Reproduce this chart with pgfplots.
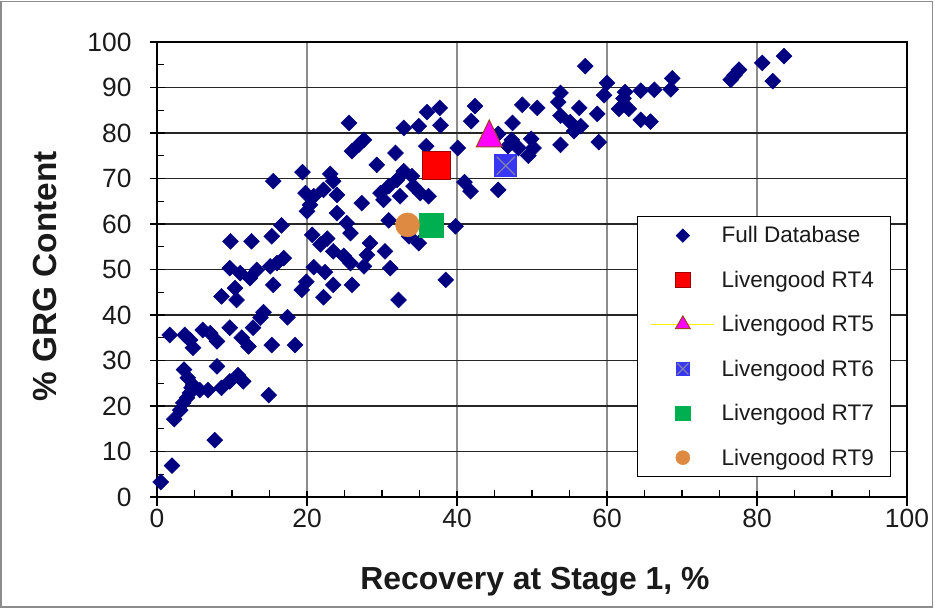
\documentclass[border=0pt]{standalone}
\usepackage{pgfplots}
\pgfplotsset{compat=1.18}
\usepackage{fontspec}
\setmainfont{Liberation Sans}
\definecolor{navyd}{HTML}{000080}
\definecolor{rt4}{HTML}{FF0000}
\definecolor{rt4e}{HTML}{A00000}
\definecolor{rt5}{HTML}{FF00FF}
\definecolor{rt5e}{HTML}{A04020}
\definecolor{rt6}{HTML}{3636F4}
\definecolor{rt6x}{HTML}{8080A8}
\definecolor{rt7}{HTML}{00B050}
\definecolor{rt9}{HTML}{DE8A42}
\definecolor{txt}{HTML}{1A1A1A}
\pgfdeclareplotmark{sqx}{%
  \pgfpathrectangle{\pgfqpoint{-\pgfplotmarksize}{-\pgfplotmarksize}}{\pgfqpoint{2\pgfplotmarksize}{2\pgfplotmarksize}}%
  \pgfusepathqfill
  \pgfsetstrokecolor{rt6x}%
  \pgfsetlinewidth{1.2bp}%
  \pgfpathmoveto{\pgfqpoint{-0.8\pgfplotmarksize}{-0.8\pgfplotmarksize}}%
  \pgfpathlineto{\pgfqpoint{0.8\pgfplotmarksize}{0.8\pgfplotmarksize}}%
  \pgfpathmoveto{\pgfqpoint{-0.8\pgfplotmarksize}{0.8\pgfplotmarksize}}%
  \pgfpathlineto{\pgfqpoint{0.8\pgfplotmarksize}{-0.8\pgfplotmarksize}}%
  \pgfusepathqstroke
}
\pgfplotstableread{
x y
0.5 3.3
2.0 6.9
7.7 12.5
2.3 17.1
3.1 19.1
3.5 20.7
4.0 21.8
4.4 22.9
4.6 24.0
3.6 28.0
4.1 26.2
4.8 24.6
5.7 23.5
6.8 23.5
8.0 28.7
8.6 24.0
9.7 25.4
10.8 26.8
11.5 25.4
14.9 22.4
1.7 35.6
3.7 35.6
4.4 34.5
4.8 32.8
6.1 36.7
7.1 36.0
8.0 34.2
9.7 37.2
11.3 35.0
12.2 33.1
12.8 37.2
13.8 39.4
14.2 40.6
15.3 33.4
17.4 39.5
18.4 33.4
15.5 69.4
19.4 71.4
16.6 59.7
15.3 57.3
9.8 56.2
12.6 56.2
16.9 52.5
16.0 51.4
15.1 50.7
9.7 50.3
11.1 49.2
12.4 48.1
13.3 49.9
10.4 45.9
8.6 44.1
10.6 43.3
15.5 46.6
19.8 66.8
20.9 66.1
22.2 67.5
20.4 64.2
20.0 62.8
20.7 57.6
22.7 56.8
21.8 55.5
20.9 50.5
19.9 47.3
19.3 45.5
22.2 43.9
22.4 49.4
25.6 82.2
27.6 78.5
26.9 77.4
26.0 76.0
31.8 75.6
29.3 73.0
32.9 81.1
34.9 81.5
36.0 84.6
37.7 85.5
37.8 81.7
35.9 77.1
40.1 76.7
42.4 85.9
41.9 82.6
32.9 71.6
34.0 70.5
23.1 71.0
23.5 69.4
24.0 66.4
27.3 64.6
29.8 66.8
30.9 68.3
32.0 69.7
30.2 65.3
32.4 66.1
34.2 68.3
35.1 66.8
36.2 66.1
41.0 69.2
41.8 67.2
24.0 62.4
25.3 60.2
25.8 58.0
30.9 60.8
34.9 55.8
33.6 57.3
39.8 59.5
23.5 54.0
24.9 53.0
28.4 55.8
30.4 54.0
28.0 53.2
25.8 51.4
27.6 50.7
23.5 46.6
26.0 46.6
31.1 50.3
32.2 43.3
38.5 47.7
57.1 94.7
48.7 86.2
50.7 85.5
47.4 82.2
45.5 79.8
46.8 77.1
47.3 78.5
49.9 78.7
50.2 76.7
48.2 76.7
49.5 75.0
45.5 67.5
53.8 88.8
53.5 86.8
53.8 83.8
55.1 82.4
56.3 85.5
56.5 81.5
55.6 80.4
53.8 77.4
58.9 78.0
58.7 84.2
60.0 91.0
59.6 88.3
62.4 89.0
62.2 87.6
61.6 85.3
62.9 85.3
64.5 89.3
66.3 89.5
68.7 92.0
68.5 89.6
64.5 82.9
65.8 82.5
76.5 91.7
77.0 92.7
77.6 93.9
80.7 95.4
82.1 91.4
83.6 96.9
}\fulldb
\begin{document}
\begin{tikzpicture}[x=1bp,y=1bp]
\useasboundingbox (0,0) rectangle (935,609);
\draw[color=black!45, line width=1.5bp] (1,2) rectangle (932.5,607.5);
\begin{axis}[
  at={(157bp,112bp)}, anchor=south west,
  scale only axis, width=750bp, height=455bp,
  xmin=0, xmax=100, ymin=0, ymax=100,
  xtick distance=20, ytick distance=10,
  minor x tick num=3, minor y tick num=1,
  xtick pos=bottom, ytick pos=left,
  tick align=inside,
  major tick length=15bp, minor tick length=7bp,
  major x tick style={yshift=-9bp},
  major y tick style={xshift=-7bp},
  tick style={black, line width=1.3bp},
  axis line style={black, line width=1.5bp},
  xmajorgrids, ymajorgrids,
  x grid style={color=black!45, line width=2bp},
  y grid style={color=black!85, line width=1.6bp},
  /pgf/number format/assume math mode=true,
  tick label style={font=\fontsize{26.5}{30}\selectfont, text=txt},
  yticklabel style={xshift=-22bp},
  xticklabel style={yshift=-9bp},
  label style={font=\bfseries\fontsize{32}{36}\selectfont, text=txt},
  xlabel={Recovery at Stage 1, \%},
  ylabel={\% GRG Content},
  xlabel style={at={(axis description cs:0.504,-0.204)}, anchor=base},
  ylabel style={at={(axis description cs:-0.149,0.485)}, anchor=center, rotate=0, font=\bfseries\fontsize{33.5}{38}\selectfont},
  legend style={at={(rel axis cs:0.64,0.6176)}, anchor=north west, draw=black,
    line width=1.4bp, fill=white, font=\fontsize{22.6}{26}\selectfont, text=txt,
    row sep=19.6bp, column sep=3bp, inner xsep=13bp, inner ysep=6.5bp, nodes={inner sep=3.5bp}},
  legend cell align=left,
  legend image code/.code={\draw[mark repeat=2,mark phase=2,#1] plot coordinates {(0bp,0bp) (31.5bp,0bp) (63bp,0bp)};},
]
\addplot[only marks, mark=square*, mark size=5.6bp, mark options={rotate=45, fill=navyd, draw=navyd, line width=0.5bp}, forget plot] table[x=x,y=y] {\fulldb};
\addplot[only marks, mark=square*, mark size=13.8bp, mark options={fill=rt4, draw=rt4e, line width=1bp}, forget plot] coordinates {(37.3,72.8)};
\addplot[only marks, mark=triangle*, mark size=15bp, mark options={fill=rt5, draw=rt5e, line width=1bp, yscale=1.2}, forget plot] coordinates {(44.3,78.9)};
\addplot[only marks, mark=sqx, mark size=11.3bp, mark options={fill=rt6, draw=rt6x}, forget plot] coordinates {(46.5,72.8)};
\addplot[only marks, mark=square*, mark size=12bp, mark options={fill=rt7, draw=rt7, line width=0.5bp}, forget plot] coordinates {(36.6,59.8)};
\addplot[only marks, mark=*, mark size=12bp, mark options={fill=rt9, draw=rt9, line width=0.5bp}, forget plot] coordinates {(33.4,59.8)};
\addlegendimage{only marks, mark=square*, mark size=4.8bp, mark options={rotate=45, fill=navyd, draw=navyd, line width=0.5bp}}
\addlegendentry{Full Database}
\addlegendimage{only marks, mark=square*, mark size=7.3bp, mark options={fill=rt4, draw=rt4e, line width=1bp}}
\addlegendentry{Livengood RT4}
\addlegendimage{yellow, line width=1.3bp, mark=triangle*, mark size=8.5bp, mark options={fill=rt5, draw=rt5e, line width=1bp}}
\addlegendentry{Livengood RT5}
\addlegendimage{only marks, mark=sqx, mark size=7bp, mark options={fill=rt6}}
\addlegendentry{Livengood RT6}
\addlegendimage{only marks, mark=square*, mark size=7.3bp, mark options={fill=rt7, draw=rt7, line width=0.5bp}}
\addlegendentry{Livengood RT7}
\addlegendimage{only marks, mark=*, mark size=7bp, mark options={fill=rt9, draw=rt9, line width=0.5bp}}
\addlegendentry{Livengood RT9}
\end{axis}
\end{tikzpicture}
\end{document}
